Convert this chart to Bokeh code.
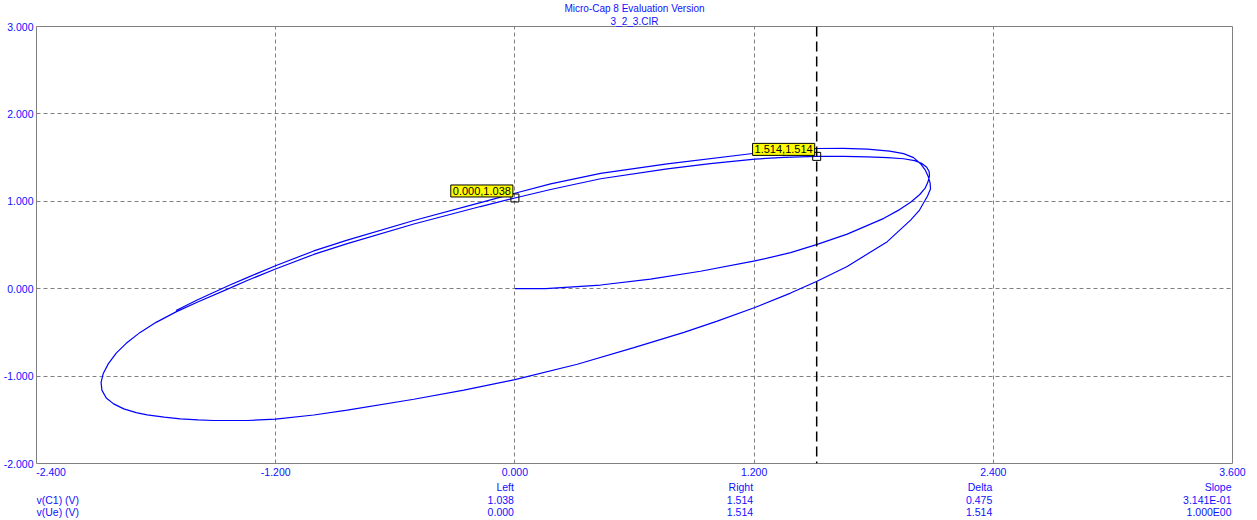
from bokeh.plotting import figure
from bokeh.layouts import column
from bokeh.models import Range1d, FixedTicker, Label, Span, Title, CustomJSTickFormatter
from bokeh.embed import file_html
from bokeh.resources import INLINE
from bokeh.core.properties import value

# ---------------- data ----------------
title_lines = ["Micro-Cap 8 Evaluation Version", "3_2_3.CIR"]
x_ticks = [-2.4, -1.2, 0.0, 1.2, 2.4, 3.6]
y_ticks = [-2.0, -1.0, 0.0, 1.0, 2.0, 3.0]

# v(Ue) (x) and v(C1) (y), read along the trajectory
ue = [0.000, 0.154, 0.430, 0.680, 0.931, 1.204, 1.383, 1.513, 1.667, 1.851,
      1.930, 1.985, 2.030, 2.058, 2.072, 2.080, 2.078, 2.066, 2.040, 2.005,
      1.950, 1.870, 1.768, 1.650, 1.514, 1.349, 1.204, 0.980, 0.764, 0.430,
      0.179, 0.000, -0.173, -0.507, -0.841, -1.009, -1.201, -1.343, -1.427, -1.594,
      -1.700, -1.800, -1.880, -1.950, -2.000, -2.040, -2.065, -2.076, -2.072, -2.050,
      -2.013, -1.962, -1.900, -1.845, -1.760, -1.678, -1.590, -1.511, -1.343, -1.201,
      -1.009, -0.841, -0.507, -0.256, 0.000, 0.313, 0.597, 0.848, 1.015, 1.204,
      1.383, 1.513, 1.667, 1.868, 1.985, 2.030, 2.070, 2.085, 2.083, 2.074,
      2.058, 2.035, 2.000, 1.950, 1.880, 1.768, 1.650, 1.513, 1.350, 1.204,
      0.764, 0.430, 0.179, 0.000, -0.173, -0.507, -0.841, -1.009, -1.201, -1.343,
      -1.427, -1.594, -1.700]
c1 = [0.000, 0.000, 0.042, 0.110, 0.200, 0.318, 0.412, 0.505, 0.625, 0.805,
      0.905, 0.990, 1.075, 1.150, 1.220, 1.290, 1.340, 1.390, 1.435, 1.465,
      1.487, 1.500, 1.508, 1.513, 1.514, 1.503, 1.482, 1.430, 1.371, 1.258,
      1.135, 1.038, 0.940, 0.740, 0.515, 0.392, 0.225, 0.094, 0.010, -0.155,
      -0.265, -0.385, -0.500, -0.625, -0.737, -0.860, -0.970, -1.072, -1.160, -1.250,
      -1.318, -1.375, -1.418, -1.443, -1.470, -1.489, -1.500, -1.508, -1.508, -1.492,
      -1.445, -1.390, -1.265, -1.160, -1.040, -0.864, -0.674, -0.500, -0.371, -0.215,
      -0.050, 0.083, 0.254, 0.538, 0.784, 0.900, 1.060, 1.140, 1.210, 1.280,
      1.360, 1.430, 1.500, 1.545, 1.575, 1.597, 1.606, 1.604, 1.582, 1.550,
      1.428, 1.320, 1.200, 1.092, 0.985, 0.780, 0.556, 0.432, 0.262, 0.127,
      0.045, -0.130, -0.250]

cursor_x = [0.000, 1.514]
cursor_y = [1.038, 1.514]
cursor_tags = ["0.000,1.038", "1.514,1.514"]
right_cursor = 1.514

table_heads = ["Left", "Right", "Delta", "Slope"]
row_names = ["v(C1) (V)", "v(Ue) (V)"]
c1_vals = ["1.038", "1.514", "0.475", "3.141E-01"]
ue_vals = ["0.000", "1.514", "1.514", "1.000E00"]

# ---------------- style ----------------
BLUE = "#1010ff"
FONT = "Liberation Sans"
FS = "10.5px"
W = 1257
BL, BR = 36, 25

xr = Range1d(x_ticks[0], x_ticks[-1])

p = figure(width=W, height=480, x_range=xr,
           y_range=Range1d(y_ticks[0], y_ticks[-1]),
           output_backend="svg", toolbar_location=None,
           min_border_left=BL, min_border_right=BR,
           min_border_top=25, min_border_bottom=15)
p.background_fill_color = "white"
p.border_fill_color = "white"
p.outline_line_color = "#808080"
p.outline_line_width = 1

# titles (p.title ends up outermost, the added one next to the frame)
p.title.text = title_lines[0]
p.title.align = "center"
p.title.text_color = BLUE
p.title.text_font = FONT
p.title.text_font_size = "10px"
p.title.text_font_style = "normal"
p.title.standoff = 0
p.add_layout(Title(text=title_lines[1], align="center", text_color=BLUE,
                   text_font=FONT, text_font_size="10px",
                   text_font_style="normal", standoff=0), "above")

for ax in (p.xaxis[0], p.yaxis[0]):
    ax.axis_line_color = None
    ax.major_tick_line_color = None
    ax.minor_tick_line_color = None
    ax.major_tick_out = 0
    ax.major_tick_in = 0
    ax.minor_tick_out = 0
    ax.minor_tick_in = 0
    ax.major_label_text_color = BLUE
    ax.major_label_text_font = FONT
    ax.major_label_text_font_size = FS

p.xaxis.ticker = FixedTicker(ticks=x_ticks)
p.yaxis.ticker = FixedTicker(ticks=y_ticks)
# first x label is pushed right so that it starts at the frame edge
p.xaxis.formatter = CustomJSTickFormatter(
    args=dict(first=x_ticks[0]),
    code="var s = tick.toFixed(3); return Math.abs(tick - first) < 1e-6 ? '\\u00a0'.repeat(10) + s : s;")
p.yaxis.formatter = CustomJSTickFormatter(code="return tick.toFixed(3);")
p.xaxis.major_label_standoff = 2
p.yaxis.major_label_standoff = 3

for g in (p.xgrid[0], p.ygrid[0]):
    g.grid_line_color = "#808080"
    g.grid_line_dash = "4 3"
    g.grid_line_width = 1

# curve
p.line(ue, c1, line_color="#0000ff", line_width=1.2)

# right cursor line
p.add_layout(Span(location=right_cursor, dimension="height",
                  line_color="black", line_dash="10 5", line_width=1.5))

# cursor markers and tags
p.scatter(cursor_x, cursor_y, marker="square", size=8,
          fill_color=None, line_color="black", line_width=1)
for cx, cy, tag in zip(cursor_x, cursor_y, cursor_tags):
    p.add_layout(Label(x=cx, y=cy, text=tag, x_offset=-2, y_offset=1,
                       text_align="right", text_baseline="bottom",
                       text_color="black", text_font=FONT, text_font_size="11px",
                       background_fill_color="#ffff00",
                       border_line_color="black", border_line_width=1,
                       padding=2))

# ---------------- cursor table (below the plot) ----------------
t = figure(width=W, height=40, x_range=xr, y_range=Range1d(40, 0),
           output_backend="svg", toolbar_location=None,
           min_border_left=BL, min_border_right=BR,
           min_border_top=0, min_border_bottom=0,
           x_axis_location=None, y_axis_location=None)
t.grid.visible = False
t.outline_line_color = None
t.background_fill_color = "white"
t.border_fill_color = "white"

col_x = x_ticks[2:]
row_y = [6, 19, 31.7]
vx, vy, vt = [], [], []
for texts, ry in zip([table_heads, c1_vals, ue_vals], row_y):
    for cx, s in zip(col_x, texts):
        vx.append(cx)
        vy.append(ry)
        vt.append(s)
t.text(x=vx, y=vy, text=vt, text_align="right", text_baseline="middle",
       x_offset=-1, text_color=BLUE, text_font=value(FONT),
       text_font_size=value(FS))
t.text(x=[x_ticks[0]] * len(row_names), y=row_y[1:], text=row_names,
       text_align="left", text_baseline="middle", text_color=BLUE,
       text_font=value(FONT), text_font_size=value(FS))

layout = column(p, t, spacing=0)

open("out.html", "w").write(file_html(layout, INLINE))
